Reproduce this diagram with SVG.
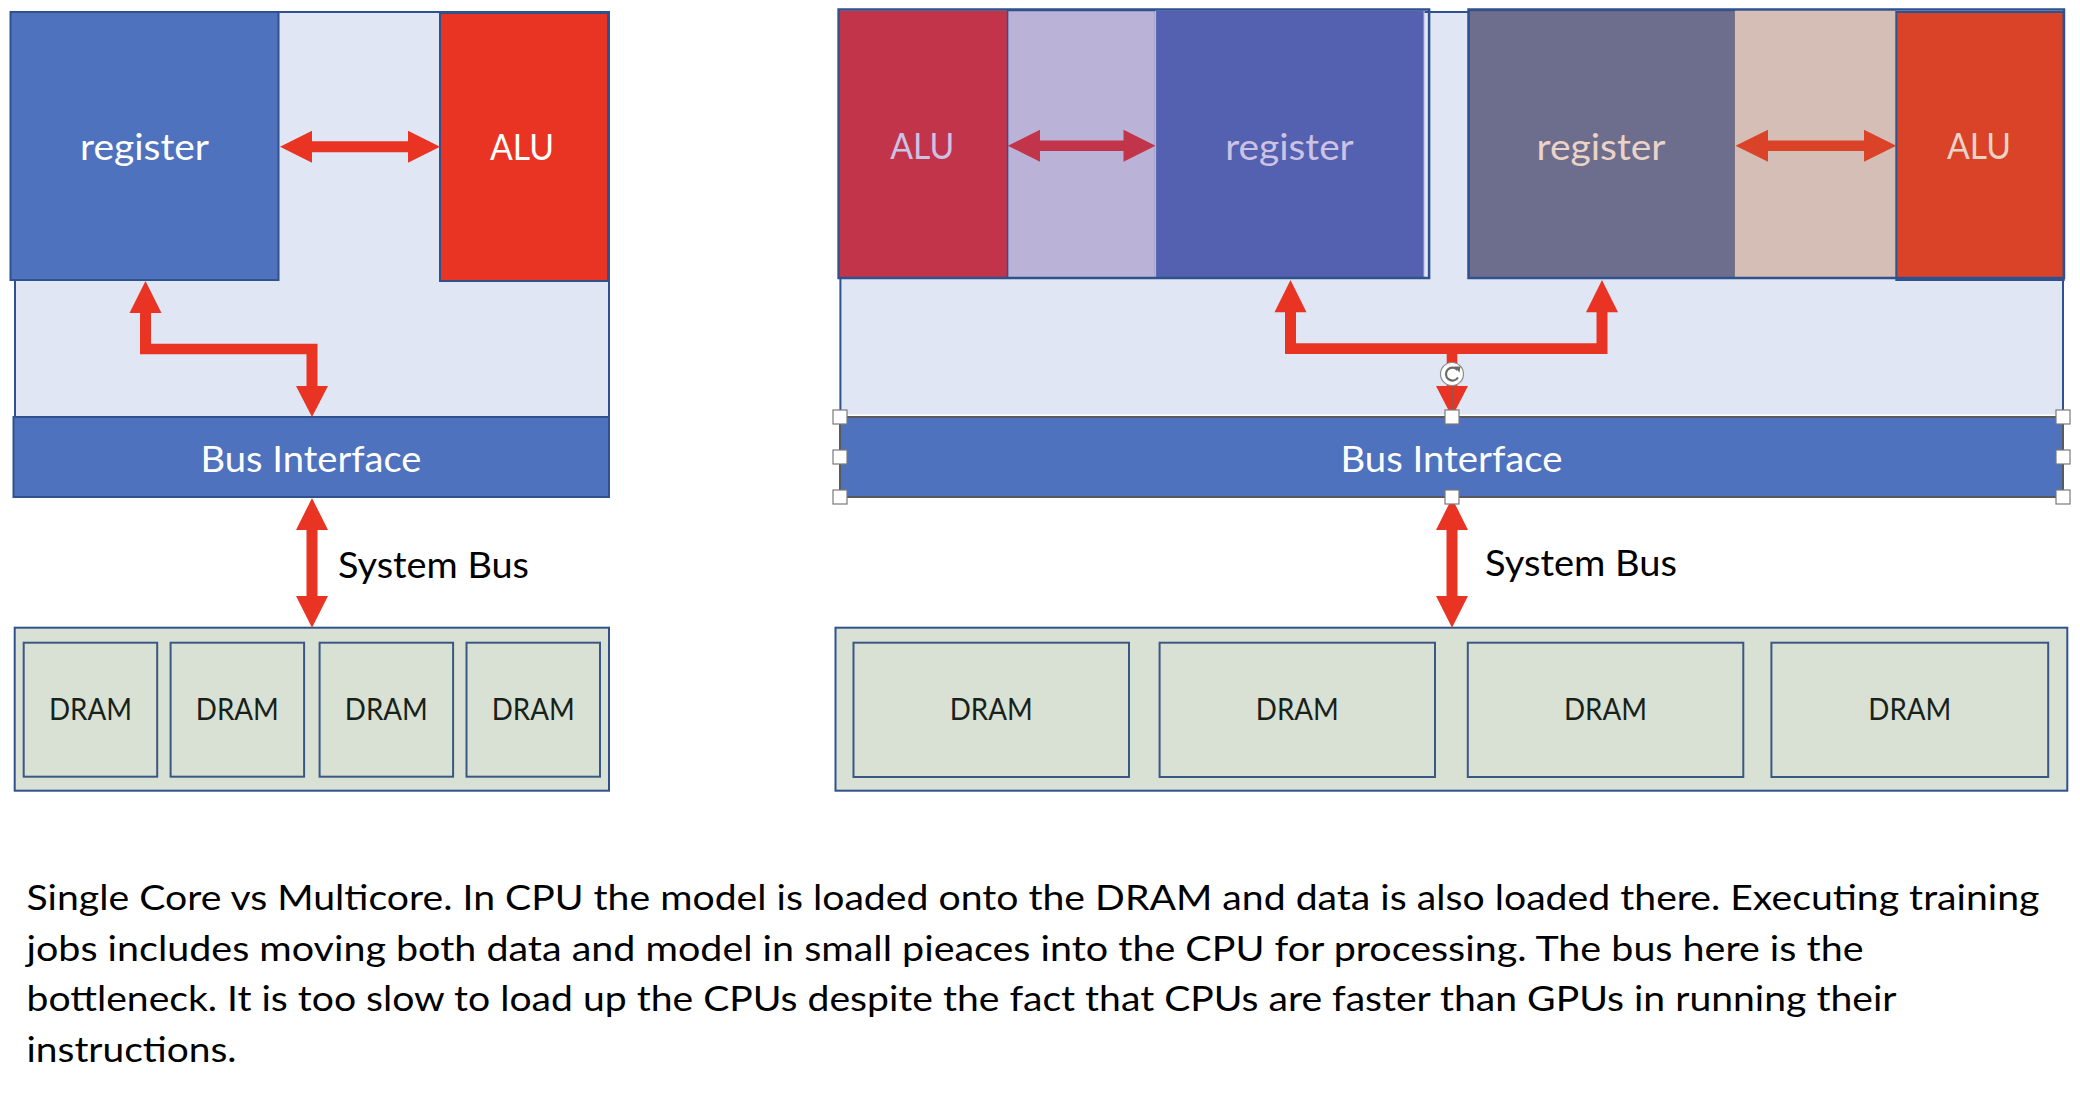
<svg xmlns="http://www.w3.org/2000/svg" width="2080" height="1098" viewBox="0 0 2080 1098">
<style>
text{font-family:Lato,"Open Sans","Liberation Sans",sans-serif}
.cont{fill:#E0E6F4;stroke:#2F528F;stroke-width:2}
.bus{fill:#4E72BE;stroke:#2F528F;stroke-width:2}
.dramc{fill:#D9E1D4;stroke:#2F528F;stroke-width:2}
.dram{fill:#D9E1D4;stroke:#3B5783;stroke-width:2}
.lbl{font-size:37px;text-anchor:middle}
.dt{font-size:30px;text-anchor:middle;fill:#17231A}
.cap{font-size:35px;fill:#000}
.red{fill:#E93424}
.hdl{fill:#fff;stroke:#7A7A7A;stroke-width:1.2}
</style>
<rect width="2080" height="1098" fill="#fff"/>

<!-- LEFT single core -->
<g id="single-core-container"><rect class="cont" x="15" y="12" width="594" height="405"/></g>
<g id="sc-register"><rect x="10.5" y="12" width="268" height="268" fill="#4F72BE" stroke="#2F528F" stroke-width="2"/>
<text class="lbl" x="144.5" y="160" fill="#fff" textLength="129" lengthAdjust="spacingAndGlyphs">register</text></g>
<g id="sc-alu"><rect x="440" y="13" width="168" height="268" fill="#E93424" stroke="#2F528F" stroke-width="2"/>
<text class="lbl" x="522" y="160" fill="#fff" textLength="64" lengthAdjust="spacingAndGlyphs">ALU</text></g>
<g id="sc-bus-interface"><rect class="bus" x="13.5" y="417" width="595.5" height="80"/>
<text class="lbl" x="311" y="471.5" fill="#fff" textLength="221" lengthAdjust="spacingAndGlyphs">Bus Interface</text></g>
<g id="sc-dram">
<rect class="dramc" x="14.7" y="627.7" width="594.3" height="163"/>
<rect class="dram" x="23.7" y="642.7" width="133.5" height="134"/>
<rect class="dram" x="170.6" y="642.7" width="133.5" height="134"/>
<rect class="dram" x="319.6" y="642.7" width="133.5" height="134"/>
<rect class="dram" x="466.5" y="642.7" width="133.5" height="134"/>
<text class="dt" x="90.5" y="720" textLength="83" lengthAdjust="spacingAndGlyphs">DRAM</text>
<text class="dt" x="237.3" y="720" textLength="83" lengthAdjust="spacingAndGlyphs">DRAM</text>
<text class="dt" x="386.3" y="720" textLength="83" lengthAdjust="spacingAndGlyphs">DRAM</text>
<text class="dt" x="533.2" y="720" textLength="83" lengthAdjust="spacingAndGlyphs">DRAM</text>
</g>
<g id="sc-system-bus-label"><text x="338" y="578" font-size="37" fill="#000" textLength="191" lengthAdjust="spacingAndGlyphs">System Bus</text></g>

<!-- RIGHT multicore -->
<g id="multi-core-container"><rect class="cont" x="840.4" y="12" width="1222.6" height="405"/></g>
<g id="core1">
<rect x="839.6" y="10.5" width="168" height="267.5" fill="#C1344A"/>
<rect x="1007.6" y="10.5" width="148" height="267.5" fill="#BBB2D8" stroke="#2F528F" stroke-width="1.5"/>
<rect x="1155.6" y="10.5" width="268.5" height="267.5" fill="#5461B0" stroke="#C9C2E2" stroke-width="1"/>
<rect x="838.6" y="9.5" width="590.5" height="268.5" fill="none" stroke="#2F528F" stroke-width="2.5"/>
<text class="lbl" x="922.3" y="158.5" fill="#CCC2E4" textLength="64" lengthAdjust="spacingAndGlyphs">ALU</text>
<text class="lbl" x="1289.5" y="159.5" fill="#CCC2E4" textLength="128.5" lengthAdjust="spacingAndGlyphs">register</text>
</g>
<g id="core2">
<rect x="1469" y="10.5" width="265.7" height="267.5" fill="#6D6E8D" stroke="#54566F" stroke-width="1.5"/>
<rect x="1734.7" y="10.5" width="161.6" height="267.5" fill="#D5BEB5"/>
<rect x="1896.3" y="12" width="167.4" height="268" fill="#DA4327" stroke="#2F528F" stroke-width="2"/>
<rect x="1468.5" y="9.5" width="595.5" height="268.5" fill="none" stroke="#2F528F" stroke-width="2.5"/>
<text class="lbl" x="1601" y="159.5" fill="#EBD3C7" textLength="129" lengthAdjust="spacingAndGlyphs">register</text>
<text class="lbl" x="1979" y="158.5" fill="#EBD3C7" textLength="64" lengthAdjust="spacingAndGlyphs">ALU</text>
</g>
<g id="mc-bus-interface">
<line x1="840" y1="415.3" x2="2063" y2="415.3" stroke="#fff" stroke-width="1.5"/>
<rect x="840" y="417" width="1223" height="80" fill="#4E72BE" stroke="#5A5A5A" stroke-width="2"/>
<text class="lbl" x="1451.5" y="471.5" fill="#fff" textLength="222" lengthAdjust="spacingAndGlyphs">Bus Interface</text>
</g>
<g id="mc-dram">
<rect class="dramc" x="835.5" y="627.7" width="1231.8" height="163"/>
<rect class="dram" x="853.5" y="642.7" width="275.5" height="134.3"/>
<rect class="dram" x="1159.6" y="642.7" width="275.4" height="134.3"/>
<rect class="dram" x="1467.8" y="642.7" width="275.5" height="134.3"/>
<rect class="dram" x="1771.4" y="642.7" width="276.8" height="134.3"/>
<text class="dt" x="991.2" y="719.5" textLength="83" lengthAdjust="spacingAndGlyphs">DRAM</text>
<text class="dt" x="1297.3" y="719.5" textLength="83" lengthAdjust="spacingAndGlyphs">DRAM</text>
<text class="dt" x="1605.5" y="719.5" textLength="83" lengthAdjust="spacingAndGlyphs">DRAM</text>
<text class="dt" x="1909.8" y="719.5" textLength="83" lengthAdjust="spacingAndGlyphs">DRAM</text>
</g>
<g id="mc-system-bus-label"><text x="1485" y="576" font-size="37" fill="#000" textLength="192" lengthAdjust="spacingAndGlyphs">System Bus</text></g>

<!-- connectors -->
<g id="connectors">
<polygon class="red" points="280,146.7 312,130.7 312,141.2 408,141.2 408,130.7 440,146.7 408,162.7 408,152.2 312,152.2 312,162.7"/>
<polygon class="red" points="145.5,281 161.5,313 151,313 151,343.7 317.5,343.7 317.5,386 328,386 312,417 296,386 306.5,386 306.5,354.3 140,354.3 140,313 129.5,313"/>
<polygon class="red" points="312,498 328,530 317.5,530 317.5,596 328,596 312,627.7 296,596 306.5,596 306.5,530 296,530"/>
<polygon fill="#C1344A" points="1007.8,145.7 1040,129.7 1040,140.4 1123.5,140.4 1123.5,129.7 1155.5,145.7 1123.5,161.7 1123.5,151 1040,151 1040,161.7"/>
<polygon fill="#DA4327" points="1735.5,145.7 1768,129.7 1768,140.4 1864,140.4 1864,129.7 1896.3,145.7 1864,161.7 1864,151 1768,151 1768,161.7"/>
<polygon class="red" points="1290.5,280 1306.5,312.3 1296,312.3 1296,343.3 1596.5,343.3 1596.5,312.3 1586,312.3 1602,280 1618,312.3 1607.5,312.3 1607.5,354 1457.3,354 1457.3,386 1468,386 1452,417 1436,386 1446.7,386 1446.7,354 1285,354 1285,312.3 1274.5,312.3"/>
<polygon class="red" points="1452,498 1468,530 1457.5,530 1457.5,596 1468,596 1452,627.7 1436,596 1446.5,596 1446.5,530 1436,530"/>
</g>

<!-- selection handles -->
<g id="selection-handles">
<line x1="1452" y1="385" x2="1452" y2="410" stroke="#666" stroke-width="1.2"/>
<circle cx="1452" cy="374" r="11.5" fill="#fff" stroke="#8A8A8A" stroke-width="1.2"/>
<path d="M1457.5,370 A6.5,6.5 0 1 0 1458,377.5" fill="none" stroke="#6A6A6A" stroke-width="2.2"/>
<polygon points="1454,366.5 1460.5,366.5 1459.5,372.5" fill="#6A6A6A"/>
<rect class="hdl" x="833" y="410" width="14" height="14"/>
<rect class="hdl" x="833" y="450" width="14" height="14"/>
<rect class="hdl" x="833" y="490" width="14" height="14"/>
<rect class="hdl" x="1445" y="410" width="14" height="14"/>
<rect class="hdl" x="1445" y="490" width="14" height="14"/>
<rect class="hdl" x="2056" y="410" width="14" height="14"/>
<rect class="hdl" x="2056" y="450" width="14" height="14"/>
<rect class="hdl" x="2056" y="490" width="14" height="14"/>
</g>

<g id="caption">
<text class="cap" x="26.5" y="910" textLength="2013" lengthAdjust="spacingAndGlyphs">Single Core vs Multicore. In CPU the model is loaded onto the DRAM and data is also loaded there. Executing training</text>
<text class="cap" x="26.5" y="960.5" textLength="1837" lengthAdjust="spacingAndGlyphs">jobs includes moving both data and model in small pieaces into the CPU for processing. The bus here is the</text>
<text class="cap" x="26.5" y="1011" textLength="1870" lengthAdjust="spacingAndGlyphs">bottleneck. It is too slow to load up the CPUs despite the fact that CPUs are faster than GPUs in running their</text>
<text class="cap" x="26.5" y="1061.7" textLength="210" lengthAdjust="spacingAndGlyphs">instructions.</text>
</g>
</svg>
